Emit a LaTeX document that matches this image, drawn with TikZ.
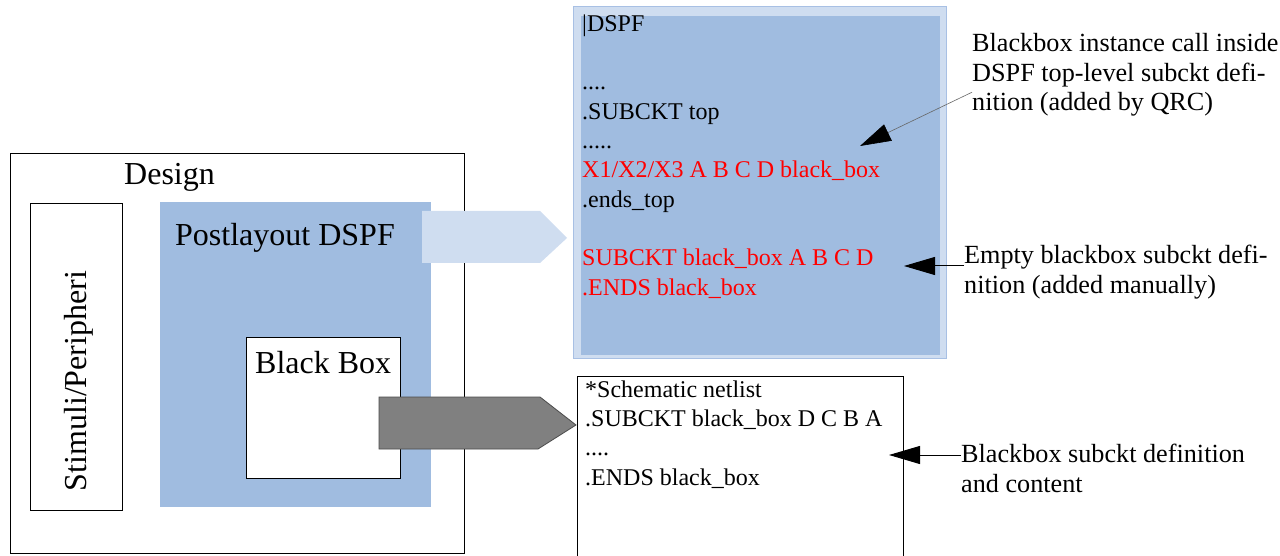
\documentclass[tikz,border=0pt]{standalone}
\usepackage{fontspec}
\setmainfont{Liberation Serif}
\usepackage{xcolor}
\usetikzlibrary{arrows.meta,positioning}
\definecolor{DspfBlue}{HTML}{A0BCE0}
\definecolor{DspfLight}{HTML}{CFDDF0}
\definecolor{DspfEdge}{HTML}{A8C0E4}
\definecolor{BoxGray}{HTML}{808080}
\tikzset{
  areabox/.style={anchor=north west,inner sep=0pt,outer sep=0pt,line width=1pt},
  codetext/.style={anchor=base west,align=left,inner sep=0pt,font=\fontsize{24}{29.3}\selectfont},
  titletext/.style={anchor=base west,inner sep=0pt,font=\fontsize{32}{38}\selectfont},
  notetext/.style={anchor=base west,align=left,inner sep=0pt,font=\fontsize{26.2}{29.5}\selectfont},
  notearrow/.style={-{Triangle[length=31pt,width=18pt,color=black]},line width=1pt},
  lightarrow/.style={fill=DspfLight},
  darkarrow/.style={fill=BoxGray,draw=black!70,line width=0.8pt}
}
\begin{document}
\begin{tikzpicture}[x=1pt,y=-1pt]
\useasboundingbox (0,0) rectangle (1280,556);
% design side
\node[areabox,draw,minimum width=454pt,minimum height=399pt] (design) at (10,154) {};
\node[titletext] (designlbl) at (124,185) {Design};
\node[areabox,draw,minimum width=92pt,minimum height=306pt] (stim) at (30,204) {};
\node[titletext,anchor=base,rotate=90] (stimlbl) at (86,381) {Stimuli/Peripheri};
\node[areabox,fill=DspfBlue,minimum width=271pt,minimum height=305pt] (post) at (160,202) {};
\node[titletext] (postlbl) at (175,246) {Postlayout DSPF};
\node[areabox,draw,fill=white,minimum width=154pt,minimum height=141pt] (bbox) at (246,337) {};
\node[titletext] (bboxlbl) at (255,373) {Black Box};
% dspf file (base = last line)
\node[areabox,draw=DspfEdge,fill=DspfLight,minimum width=373pt,minimum height=351pt] (dspfout) at (573,7) {};
\node[areabox,fill=DspfBlue,minimum width=359pt,minimum height=339pt] (dspf) at (581,16) {};
\node[codetext] (dspfcode) at (582,295) {|DSPF\\~\\....\\.SUBCKT top\\.....\\
  \textcolor{red}{X1/X2/X3 A B C D black\_box}\\.ends\_top\\~\\
  \textcolor{red}{SUBCKT black\_box A B C D}\\\textcolor{red}{.ENDS black\_box}};
% schematic netlist
\node[areabox,draw,minimum width=326pt,minimum height=190pt] (schem) at (577,376) {};
\node[codetext] (schemcode) at (585,485) {*Schematic netlist\\.SUBCKT black\_box D C B A\\....\\.ENDS black\_box};
% notes
\node[notetext] (note1) at (972,111) {Blackbox instance call inside\\DSPF top-level subckt defi-\\nition (added by QRC)};
\node[notetext] (note2) at (964,293) {Empty blackbox subckt defi-\\nition (added manually)};
\node[notetext] (note3) at (961,492) {Blackbox subckt definition\\and content};
\coordinate (tip1) at (860,146);
\coordinate (tip2) at (904,266);
\coordinate (tip3) at (889,455);
\draw[notearrow,draw=black!60,line width=0.6pt] ([yshift=-17pt]note1.west) -- (tip1);
\draw[notearrow] (note2.west |- tip2) -- (tip2);
\draw[notearrow] (note3.west |- tip3) -- (tip3);
% block arrows
\fill[lightarrow] (422,211) -- (540,211) -- (567,238) -- (540,263) -- (422,263) -- cycle;
\filldraw[darkarrow] (379,397) -- (540,397) -- (576,425) -- (538,449) -- (379,449) -- cycle;
\end{tikzpicture}
\end{document}
